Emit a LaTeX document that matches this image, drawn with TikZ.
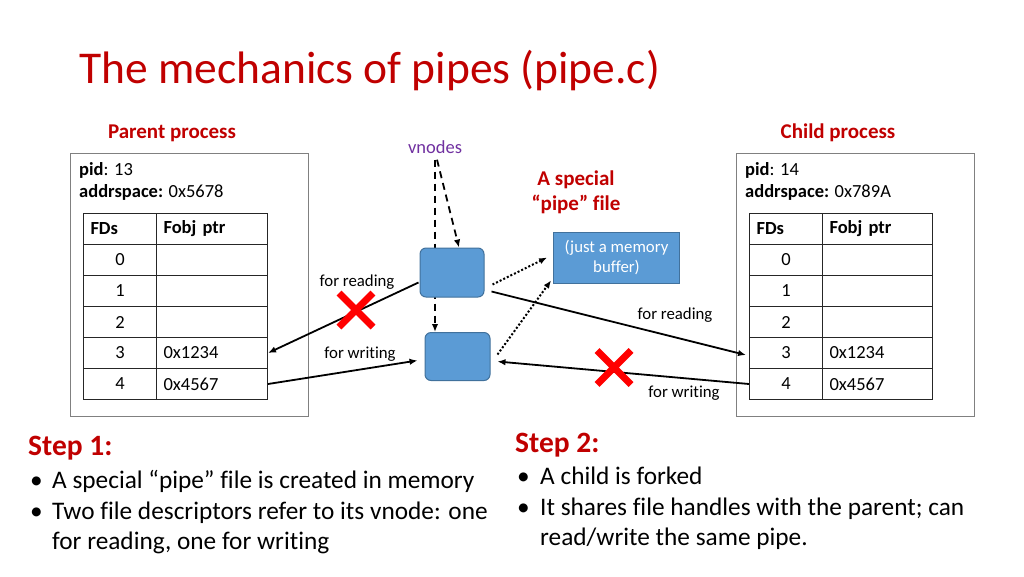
\documentclass[tikz,border=0pt]{standalone}
\usepackage{fontspec}
\setmainfont{Carlito}[Ligatures={TeX,NoCommon}]
\usetikzlibrary{positioning, calc, arrows.meta, shapes.misc, backgrounds}

\definecolor{titlered}{HTML}{C00000}
\definecolor{xred}{HTML}{FF0000}
\definecolor{vpurple}{HTML}{7030A0}
\definecolor{vblue}{HTML}{5B9BD5}
\definecolor{vedge}{HTML}{41719C}
\definecolor{boxgray}{HTML}{808080}

\begin{document}
\begin{tikzpicture}[
  x=1pt, y=-1pt,
  >={Latex[length=8pt, width=6.5pt]},
  heading/.style = {font=\fontsize{21}{25}\selectfont\bfseries, text=titlered, align=center},
  procbox/.style = {draw=boxgray, line width=1pt, minimum width=238pt, minimum height=263pt, inner sep=0pt},
  info/.style    = {font=\fontsize{18.5}{22.5}\selectfont, align=left, inner sep=0pt, anchor=north west},
  fdcell/.style  = {draw=black!85, line width=1pt, minimum width=73pt, minimum height=31pt,
                    inner sep=0pt, font=\fontsize{18.5}{20}\selectfont, anchor=north west},
  hdcell/.style  = {fdcell, text width=59pt, inner xsep=7pt, align=left, font=\fontsize{18.5}{20}\selectfont\bfseries},
  ptrcell/.style = {fdcell, minimum width=111pt, text width=97pt, inner xsep=7pt, align=left},
  vnode/.style   = {draw=vedge, fill=vblue, line width=1pt, rounded corners=6pt,
                    minimum width=64pt, minimum height=49pt, inner sep=0pt},
  lbl/.style     = {font=\fontsize{16.8}{20}\selectfont, inner sep=0pt},
  conn/.style    = {->, line width=1.8pt},
  dasharrow/.style = {->, line width=1.8pt, dash pattern=on 7pt off 5pt},
  dotarrow/.style  = {->, line width=2pt, dash pattern=on 2pt off 2pt},
  xmark/.style   = {cross out, draw=xred, line width=7pt, minimum size=27pt, inner sep=0pt},
  stephead/.style = {font=\fontsize{29.5}{34}\selectfont\bfseries, text=titlered, inner sep=0pt, anchor=base west},
  body/.style    = {font=\fontsize{25.3}{30.5}\selectfont, inner sep=0pt, anchor=north west},
]
  \useasboundingbox (0,0) rectangle (1024,576);

  % title
  \node[font=\fontsize{45.5}{54}\selectfont, text=titlered, inner sep=0pt, anchor=base west]
    (title) at (79,83) {The mechanics of pipes (pipe.c)};

  % parent process
  \node[heading] (ptitle) at (172,133) {Parent process};
  \node[procbox] (pbox) at (189,284.5) {};
  \node[info] (pinfo) at (79,162) {\textbf{pid}: 13\\\textbf{addrspace:} 0x5678};
  \node[hdcell]  (pfdh)  at (83,213)  {FDs};
  \node[ptrcell, font=\fontsize{18.5}{20}\selectfont\bfseries] (pptrh) at (156,213) {Fobj ptr};
  \foreach \i/\fd/\ptr in {1/0/, 2/1/, 3/2/, 4/3/0x1234, 5/4/0x4567} {
    \node[fdcell]  (pfd\fd)  at (83,{213+31*\i})  {\fd};
    \node[ptrcell] (pptr\fd) at (156,{213+31*\i}) {\ptr};
  }

  % child process
  \node[heading] (ctitle) at (838,133) {Child process};
  \node[procbox] (cbox) at (855,284.5) {};
  \node[info] (cinfo) at (745,162) {\textbf{pid}: 14\\\textbf{addrspace:} 0x789A};
  \node[hdcell]  (cfdh)  at (749,213) {FDs};
  \node[ptrcell, minimum width=110pt, text width=96pt, font=\fontsize{18.5}{20}\selectfont\bfseries] (cptrh) at (822,213) {Fobj ptr};
  \foreach \i/\fd/\ptr in {1/0/, 2/1/, 3/2/, 4/3/0x1234, 5/4/0x4567} {
    \node[fdcell]  (cfd\fd)  at (749,{213+31*\i}) {\fd};
    \node[ptrcell, minimum width=110pt, text width=96pt] (cptr\fd) at (822,{213+31*\i}) {\ptr};
  }

  % vnodes and the pipe file
  \node[font=\fontsize{18.5}{20}\selectfont, text=vpurple, inner sep=0pt] (vn) at (435,147) {vnodes};
  \node[vnode] (vt) at (452,272.5) {};
  \node[vnode, minimum width=65pt, minimum height=48pt] (vb) at (457.5,356.5) {};
  \node[heading] (pipe) at (576,192) {A special\\“pipe” file};
  \node[draw=vedge, fill=vblue, text=white, line width=0.8pt, minimum width=126pt, minimum height=51pt,
        align=center, inner sep=0pt, font=\fontsize{16.8}{20}\selectfont] (mem) at (616.5,257.5) {(just a memory\\buffer)};

  \begin{pgfonlayer}{background}
    \draw[dasharrow] (vn.south) ++(0,6) -- (vn.south |- vb.north);
  \end{pgfonlayer}
  \draw[dasharrow] ([xshift=2pt, yshift=-6pt]vn.south) -- ([xshift=7pt]vt.north);

  \draw[dotarrow] ([xshift=8pt, yshift=-12pt]vt.east) -- ([xshift=-6pt]mem.west);
  \draw[dotarrow] ([xshift=7pt, yshift=2pt]vb.east) -- ([xshift=-2pt, yshift=3pt]mem.south west);

  % file descriptors
  \draw[conn] ([xshift=-1pt, yshift=-10pt]vt.west) -- (pptr3.east);
  \draw[conn] (pptr4.east) -- ([xshift=-7pt, yshift=-4pt]vb.west);
  \draw[conn] ([xshift=7pt, yshift=-19pt]vt.east) -- ([xshift=-3pt, yshift=-2pt]cfd3.west);
  \draw[conn] (cfd4.west) -- ([xshift=7pt, yshift=-5pt]vb.east);

  \node[lbl] (rdl) at (357,282) {for reading};
  \node[lbl] (wrl) at (360,354) {for writing};
  \node[lbl] (rdr) at (675,315) {for reading};
  \node[lbl] (wrr) at (684,393) {for writing};

  \node[xmark] (xl) at (356,310) {};
  \node[xmark] (xr) at (614,367.5) {};

  % steps
  \node[stephead] (s1) at (28,455) {Step 1:};
  \node[body, below=12pt of s1.base west, anchor=north west] (b1) {%
    \begin{tabular}{@{}p{24pt}@{}l@{}}
      \hspace{2pt}\textbullet & A special “pipe” file is created in memory\\
      \hspace{2pt}\textbullet & Two file descriptors refer to its vnode: one\\
                              & for reading, one for writing
    \end{tabular}};

  \node[stephead] (s2) at (515,452) {Step 2:};
  \node[body, below=11pt of s2.base west, anchor=north west] (b2) {%
    \begin{tabular}{@{}p{25pt}@{}l@{}}
      \hspace{2pt}\textbullet & A child is forked\\
      \hspace{2pt}\textbullet & It shares file handles with the parent; can\\
                              & read/write the same pipe.
    \end{tabular}};
\end{tikzpicture}
\end{document}
